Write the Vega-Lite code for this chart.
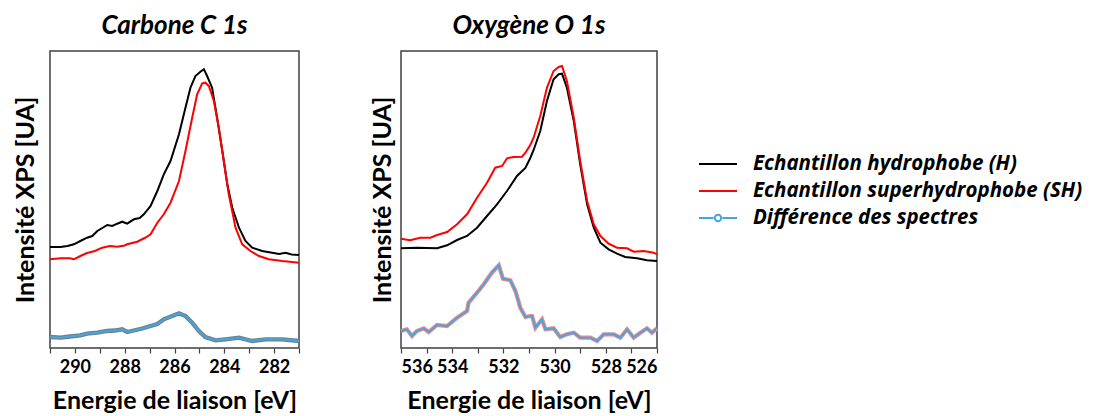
{
 "$schema": "https://vega.github.io/schema/vega-lite/v6.json",
 "background": "white",
 "padding": {"left": 12, "top": 12, "right": 5, "bottom": 0},
 "config": {
  "font": "Lato",
  "view": {"stroke": "#404040", "strokeWidth": 1.5},
  "axis": {"labelFont": "Lato", "labelFontWeight": "bold", "labelFontSize": 18, "labelColor": "#000", "titleFont": "Lato", "titleFontWeight": "bold", "titleFontSize": 25, "titleColor": "#000", "grid": false, "domain": false, "tickColor": "#404040", "tickSize": 5, "tickWidth": 1.2},
  "title": {"font": "Lato", "fontSize": 26, "fontWeight": "bold", "fontStyle": "italic", "color": "#000", "offset": 12},
  "concat": {"spacing": 60}
 },
 "datasets": {
  "carbon": [
   {"E": 291.0, "I": 101, "s": "Echantillon hydrophobe (H)"},
   {"E": 290.58, "I": 101, "s": "Echantillon hydrophobe (H)"},
   {"E": 290.3, "I": 102, "s": "Echantillon hydrophobe (H)"},
   {"E": 290.04, "I": 103.7, "s": "Echantillon hydrophobe (H)"},
   {"E": 289.78, "I": 107, "s": "Echantillon hydrophobe (H)"},
   {"E": 289.51, "I": 110.3, "s": "Echantillon hydrophobe (H)"},
   {"E": 289.3, "I": 112, "s": "Echantillon hydrophobe (H)"},
   {"E": 289.1, "I": 117, "s": "Echantillon hydrophobe (H)"},
   {"E": 288.9, "I": 120, "s": "Echantillon hydrophobe (H)"},
   {"E": 288.7, "I": 123, "s": "Echantillon hydrophobe (H)"},
   {"E": 288.5, "I": 122, "s": "Echantillon hydrophobe (H)"},
   {"E": 288.3, "I": 124.3, "s": "Echantillon hydrophobe (H)"},
   {"E": 288.1, "I": 126.3, "s": "Echantillon hydrophobe (H)"},
   {"E": 287.9, "I": 124.3, "s": "Echantillon hydrophobe (H)"},
   {"E": 287.63, "I": 128.7, "s": "Echantillon hydrophobe (H)"},
   {"E": 287.4, "I": 130, "s": "Echantillon hydrophobe (H)"},
   {"E": 287.23, "I": 133.7, "s": "Echantillon hydrophobe (H)"},
   {"E": 286.96, "I": 142, "s": "Echantillon hydrophobe (H)"},
   {"E": 286.69, "I": 157, "s": "Echantillon hydrophobe (H)"},
   {"E": 286.43, "I": 173.7, "s": "Echantillon hydrophobe (H)"},
   {"E": 286.16, "I": 187, "s": "Echantillon hydrophobe (H)"},
   {"E": 285.82, "I": 213.7, "s": "Echantillon hydrophobe (H)"},
   {"E": 285.56, "I": 240.3, "s": "Echantillon hydrophobe (H)"},
   {"E": 285.36, "I": 260.3, "s": "Echantillon hydrophobe (H)"},
   {"E": 285.16, "I": 272, "s": "Echantillon hydrophobe (H)"},
   {"E": 284.96, "I": 276.3, "s": "Echantillon hydrophobe (H)"},
   {"E": 284.82, "I": 278.7, "s": "Echantillon hydrophobe (H)"},
   {"E": 284.69, "I": 272, "s": "Echantillon hydrophobe (H)"},
   {"E": 284.49, "I": 260.3, "s": "Echantillon hydrophobe (H)"},
   {"E": 284.29, "I": 230.3, "s": "Echantillon hydrophobe (H)"},
   {"E": 284.08, "I": 197, "s": "Echantillon hydrophobe (H)"},
   {"E": 283.88, "I": 163.7, "s": "Echantillon hydrophobe (H)"},
   {"E": 283.68, "I": 140.3, "s": "Echantillon hydrophobe (H)"},
   {"E": 283.41, "I": 120.3, "s": "Echantillon hydrophobe (H)"},
   {"E": 283.15, "I": 107, "s": "Echantillon hydrophobe (H)"},
   {"E": 282.88, "I": 100.3, "s": "Echantillon hydrophobe (H)"},
   {"E": 282.48, "I": 97, "s": "Echantillon hydrophobe (H)"},
   {"E": 282.08, "I": 95.3, "s": "Echantillon hydrophobe (H)"},
   {"E": 281.8, "I": 94, "s": "Echantillon hydrophobe (H)"},
   {"E": 281.54, "I": 95.3, "s": "Echantillon hydrophobe (H)"},
   {"E": 281.3, "I": 93.5, "s": "Echantillon hydrophobe (H)"},
   {"E": 281.0, "I": 93, "s": "Echantillon hydrophobe (H)"},
   {"E": 291.0, "I": 88.7, "s": "Echantillon superhydrophobe (SH)"},
   {"E": 290.58, "I": 89.7, "s": "Echantillon superhydrophobe (SH)"},
   {"E": 290.2, "I": 89.7, "s": "Echantillon superhydrophobe (SH)"},
   {"E": 290.04, "I": 88.7, "s": "Echantillon superhydrophobe (SH)"},
   {"E": 289.78, "I": 92, "s": "Echantillon superhydrophobe (SH)"},
   {"E": 289.51, "I": 95, "s": "Echantillon superhydrophobe (SH)"},
   {"E": 289.2, "I": 97, "s": "Echantillon superhydrophobe (SH)"},
   {"E": 288.9, "I": 100.3, "s": "Echantillon superhydrophobe (SH)"},
   {"E": 288.6, "I": 102, "s": "Echantillon superhydrophobe (SH)"},
   {"E": 288.3, "I": 101.3, "s": "Echantillon superhydrophobe (SH)"},
   {"E": 288.0, "I": 102.5, "s": "Echantillon superhydrophobe (SH)"},
   {"E": 287.9, "I": 103.7, "s": "Echantillon superhydrophobe (SH)"},
   {"E": 287.5, "I": 106.3, "s": "Echantillon superhydrophobe (SH)"},
   {"E": 287.2, "I": 110, "s": "Echantillon superhydrophobe (SH)"},
   {"E": 286.96, "I": 113.7, "s": "Echantillon superhydrophobe (SH)"},
   {"E": 286.69, "I": 125.3, "s": "Echantillon superhydrophobe (SH)"},
   {"E": 286.43, "I": 133.7, "s": "Echantillon superhydrophobe (SH)"},
   {"E": 286.16, "I": 145.3, "s": "Echantillon superhydrophobe (SH)"},
   {"E": 285.82, "I": 167, "s": "Echantillon superhydrophobe (SH)"},
   {"E": 285.56, "I": 197, "s": "Echantillon superhydrophobe (SH)"},
   {"E": 285.29, "I": 230.3, "s": "Echantillon superhydrophobe (SH)"},
   {"E": 285.09, "I": 253.7, "s": "Echantillon superhydrophobe (SH)"},
   {"E": 284.89, "I": 264.7, "s": "Echantillon superhydrophobe (SH)"},
   {"E": 284.76, "I": 265.3, "s": "Echantillon superhydrophobe (SH)"},
   {"E": 284.62, "I": 262, "s": "Echantillon superhydrophobe (SH)"},
   {"E": 284.42, "I": 247, "s": "Echantillon superhydrophobe (SH)"},
   {"E": 284.22, "I": 220.3, "s": "Echantillon superhydrophobe (SH)"},
   {"E": 284.02, "I": 187, "s": "Echantillon superhydrophobe (SH)"},
   {"E": 283.82, "I": 153.7, "s": "Echantillon superhydrophobe (SH)"},
   {"E": 283.55, "I": 120.3, "s": "Echantillon superhydrophobe (SH)"},
   {"E": 283.28, "I": 103.7, "s": "Echantillon superhydrophobe (SH)"},
   {"E": 282.95, "I": 97, "s": "Echantillon superhydrophobe (SH)"},
   {"E": 282.61, "I": 92, "s": "Echantillon superhydrophobe (SH)"},
   {"E": 282.21, "I": 88.7, "s": "Echantillon superhydrophobe (SH)"},
   {"E": 281.67, "I": 87, "s": "Echantillon superhydrophobe (SH)"},
   {"E": 281.0, "I": 85.3, "s": "Echantillon superhydrophobe (SH)"},
   {"E": 291.0, "I": 11, "s": "Différence des spectres"},
   {"E": 290.58, "I": 10.3, "s": "Différence des spectres"},
   {"E": 290.2, "I": 11.5, "s": "Différence des spectres"},
   {"E": 289.78, "I": 12.7, "s": "Différence des spectres"},
   {"E": 289.51, "I": 14.3, "s": "Différence des spectres"},
   {"E": 289.1, "I": 15.3, "s": "Différence des spectres"},
   {"E": 288.7, "I": 17, "s": "Différence des spectres"},
   {"E": 288.4, "I": 17.5, "s": "Différence des spectres"},
   {"E": 288.1, "I": 18.7, "s": "Différence des spectres"},
   {"E": 287.9, "I": 16, "s": "Différence des spectres"},
   {"E": 287.63, "I": 17.5, "s": "Différence des spectres"},
   {"E": 287.3, "I": 19.5, "s": "Différence des spectres"},
   {"E": 286.96, "I": 22, "s": "Différence des spectres"},
   {"E": 286.69, "I": 24, "s": "Différence des spectres"},
   {"E": 286.43, "I": 28.7, "s": "Différence des spectres"},
   {"E": 286.09, "I": 32, "s": "Différence des spectres"},
   {"E": 285.82, "I": 34.7, "s": "Différence des spectres"},
   {"E": 285.56, "I": 32, "s": "Différence des spectres"},
   {"E": 285.29, "I": 25.3, "s": "Différence des spectres"},
   {"E": 285.02, "I": 17, "s": "Différence des spectres"},
   {"E": 284.76, "I": 11, "s": "Différence des spectres"},
   {"E": 284.35, "I": 7.7, "s": "Différence des spectres"},
   {"E": 283.95, "I": 8.7, "s": "Différence des spectres"},
   {"E": 283.41, "I": 10.3, "s": "Différence des spectres"},
   {"E": 282.88, "I": 7, "s": "Différence des spectres"},
   {"E": 282.34, "I": 8.7, "s": "Différence des spectres"},
   {"E": 281.67, "I": 8.7, "s": "Différence des spectres"},
   {"E": 281.0, "I": 7, "s": "Différence des spectres"}
  ],
  "oxygen": [
   {"E": 536.0, "I": 99.7, "s": "Echantillon hydrophobe (H)"},
   {"E": 535.38, "I": 100.3, "s": "Echantillon hydrophobe (H)"},
   {"E": 534.59, "I": 99.7, "s": "Echantillon hydrophobe (H)"},
   {"E": 534.2, "I": 102.7, "s": "Echantillon hydrophobe (H)"},
   {"E": 533.81, "I": 108, "s": "Echantillon hydrophobe (H)"},
   {"E": 533.42, "I": 112, "s": "Echantillon hydrophobe (H)"},
   {"E": 533.03, "I": 120.3, "s": "Echantillon hydrophobe (H)"},
   {"E": 532.64, "I": 132, "s": "Echantillon hydrophobe (H)"},
   {"E": 532.25, "I": 143.7, "s": "Echantillon hydrophobe (H)"},
   {"E": 531.86, "I": 157, "s": "Echantillon hydrophobe (H)"},
   {"E": 531.47, "I": 172, "s": "Echantillon hydrophobe (H)"},
   {"E": 531.14, "I": 180, "s": "Echantillon hydrophobe (H)"},
   {"E": 530.95, "I": 190, "s": "Echantillon hydrophobe (H)"},
   {"E": 530.82, "I": 198, "s": "Echantillon hydrophobe (H)"},
   {"E": 530.56, "I": 217, "s": "Echantillon hydrophobe (H)"},
   {"E": 530.3, "I": 247, "s": "Echantillon hydrophobe (H)"},
   {"E": 530.04, "I": 268.7, "s": "Echantillon hydrophobe (H)"},
   {"E": 529.84, "I": 273.7, "s": "Echantillon hydrophobe (H)"},
   {"E": 529.71, "I": 274.3, "s": "Echantillon hydrophobe (H)"},
   {"E": 529.52, "I": 260.3, "s": "Echantillon hydrophobe (H)"},
   {"E": 529.25, "I": 227, "s": "Echantillon hydrophobe (H)"},
   {"E": 529.0, "I": 183.7, "s": "Echantillon hydrophobe (H)"},
   {"E": 528.73, "I": 143.7, "s": "Echantillon hydrophobe (H)"},
   {"E": 528.47, "I": 120.3, "s": "Echantillon hydrophobe (H)"},
   {"E": 528.21, "I": 105.3, "s": "Echantillon hydrophobe (H)"},
   {"E": 527.89, "I": 98.7, "s": "Echantillon hydrophobe (H)"},
   {"E": 527.56, "I": 94.3, "s": "Echantillon hydrophobe (H)"},
   {"E": 527.24, "I": 91, "s": "Echantillon hydrophobe (H)"},
   {"E": 526.78, "I": 89.7, "s": "Echantillon hydrophobe (H)"},
   {"E": 526.39, "I": 87.7, "s": "Echantillon hydrophobe (H)"},
   {"E": 526.0, "I": 87, "s": "Echantillon hydrophobe (H)"},
   {"E": 536.0, "I": 109.3, "s": "Echantillon superhydrophobe (SH)"},
   {"E": 535.64, "I": 107.7, "s": "Echantillon superhydrophobe (SH)"},
   {"E": 535.25, "I": 110.3, "s": "Echantillon superhydrophobe (SH)"},
   {"E": 534.85, "I": 110.3, "s": "Echantillon superhydrophobe (SH)"},
   {"E": 534.59, "I": 113, "s": "Echantillon superhydrophobe (SH)"},
   {"E": 534.2, "I": 116, "s": "Echantillon superhydrophobe (SH)"},
   {"E": 533.81, "I": 123.7, "s": "Echantillon superhydrophobe (SH)"},
   {"E": 533.42, "I": 133.7, "s": "Echantillon superhydrophobe (SH)"},
   {"E": 533.03, "I": 150.3, "s": "Echantillon superhydrophobe (SH)"},
   {"E": 532.64, "I": 165.3, "s": "Echantillon superhydrophobe (SH)"},
   {"E": 532.32, "I": 180.3, "s": "Echantillon superhydrophobe (SH)"},
   {"E": 532.05, "I": 182, "s": "Echantillon superhydrophobe (SH)"},
   {"E": 531.86, "I": 189.7, "s": "Echantillon superhydrophobe (SH)"},
   {"E": 531.6, "I": 191, "s": "Echantillon superhydrophobe (SH)"},
   {"E": 531.27, "I": 191.3, "s": "Echantillon superhydrophobe (SH)"},
   {"E": 531.14, "I": 195.3, "s": "Echantillon superhydrophobe (SH)"},
   {"E": 530.95, "I": 203, "s": "Echantillon superhydrophobe (SH)"},
   {"E": 530.82, "I": 210.3, "s": "Echantillon superhydrophobe (SH)"},
   {"E": 530.56, "I": 232, "s": "Echantillon superhydrophobe (SH)"},
   {"E": 530.3, "I": 260.3, "s": "Echantillon superhydrophobe (SH)"},
   {"E": 530.04, "I": 277, "s": "Echantillon superhydrophobe (SH)"},
   {"E": 529.84, "I": 281, "s": "Echantillon superhydrophobe (SH)"},
   {"E": 529.71, "I": 282, "s": "Echantillon superhydrophobe (SH)"},
   {"E": 529.52, "I": 267, "s": "Echantillon superhydrophobe (SH)"},
   {"E": 529.25, "I": 230.3, "s": "Echantillon superhydrophobe (SH)"},
   {"E": 529.0, "I": 187, "s": "Echantillon superhydrophobe (SH)"},
   {"E": 528.73, "I": 147, "s": "Echantillon superhydrophobe (SH)"},
   {"E": 528.47, "I": 123.7, "s": "Echantillon superhydrophobe (SH)"},
   {"E": 528.21, "I": 112, "s": "Echantillon superhydrophobe (SH)"},
   {"E": 527.89, "I": 104.3, "s": "Echantillon superhydrophobe (SH)"},
   {"E": 527.56, "I": 100.3, "s": "Echantillon superhydrophobe (SH)"},
   {"E": 527.17, "I": 99.7, "s": "Echantillon superhydrophobe (SH)"},
   {"E": 526.91, "I": 96.3, "s": "Echantillon superhydrophobe (SH)"},
   {"E": 526.52, "I": 97, "s": "Echantillon superhydrophobe (SH)"},
   {"E": 526.13, "I": 95.3, "s": "Echantillon superhydrophobe (SH)"},
   {"E": 526.0, "I": 93.7, "s": "Echantillon superhydrophobe (SH)"},
   {"E": 536.0, "I": 17, "s": "Différence des spectres"},
   {"E": 535.77, "I": 18.7, "s": "Différence des spectres"},
   {"E": 535.57, "I": 12, "s": "Différence des spectres"},
   {"E": 535.38, "I": 17, "s": "Différence des spectres"},
   {"E": 535.11, "I": 19.7, "s": "Différence des spectres"},
   {"E": 534.92, "I": 16, "s": "Différence des spectres"},
   {"E": 534.59, "I": 23, "s": "Différence des spectres"},
   {"E": 534.2, "I": 22, "s": "Différence des spectres"},
   {"E": 533.81, "I": 30.3, "s": "Différence des spectres"},
   {"E": 533.42, "I": 37, "s": "Différence des spectres"},
   {"E": 533.36, "I": 45.3, "s": "Différence des spectres"},
   {"E": 533.03, "I": 55.3, "s": "Différence des spectres"},
   {"E": 532.77, "I": 63.7, "s": "Différence des spectres"},
   {"E": 532.45, "I": 75.3, "s": "Différence des spectres"},
   {"E": 532.18, "I": 82.7, "s": "Différence des spectres"},
   {"E": 532.02, "I": 69.3, "s": "Différence des spectres"},
   {"E": 531.73, "I": 67.7, "s": "Différence des spectres"},
   {"E": 531.53, "I": 57, "s": "Différence des spectres"},
   {"E": 531.34, "I": 40.3, "s": "Différence des spectres"},
   {"E": 531.14, "I": 31, "s": "Différence des spectres"},
   {"E": 530.95, "I": 32, "s": "Différence des spectres"},
   {"E": 530.88, "I": 32, "s": "Différence des spectres"},
   {"E": 530.75, "I": 20.3, "s": "Différence des spectres"},
   {"E": 530.49, "I": 28.7, "s": "Différence des spectres"},
   {"E": 530.36, "I": 18.7, "s": "Différence des spectres"},
   {"E": 530.04, "I": 19.7, "s": "Différence des spectres"},
   {"E": 529.78, "I": 11, "s": "Différence des spectres"},
   {"E": 529.52, "I": 13.7, "s": "Différence des spectres"},
   {"E": 529.25, "I": 15.3, "s": "Différence des spectres"},
   {"E": 529.0, "I": 10.3, "s": "Différence des spectres"},
   {"E": 528.6, "I": 10.3, "s": "Différence des spectres"},
   {"E": 528.34, "I": 7, "s": "Différence des spectres"},
   {"E": 528.08, "I": 13.7, "s": "Différence des spectres"},
   {"E": 527.69, "I": 13.7, "s": "Différence des spectres"},
   {"E": 527.43, "I": 10.3, "s": "Différence des spectres"},
   {"E": 527.17, "I": 18.7, "s": "Différence des spectres"},
   {"E": 526.91, "I": 10.3, "s": "Différence des spectres"},
   {"E": 526.65, "I": 15.3, "s": "Différence des spectres"},
   {"E": 526.39, "I": 19.7, "s": "Différence des spectres"},
   {"E": 526.2, "I": 15.3, "s": "Différence des spectres"},
   {"E": 526.0, "I": 19.7, "s": "Différence des spectres"}
  ]
 },
 "hconcat": [
  {
   "width": 249, "height": 297,
   "title": "Carbone C 1s",
   "data": {"name": "carbon"},
   "encoding": {
    "x": {"field": "E", "type": "quantitative", "scale": {"domain": [281, 291], "reverse": true, "nice": false, "zero": false},
     "axis": {"values": [291, 290, 289, 288, 287, 286, 285, 284, 283, 282, 281], "labelExpr": "datum.value % 2 == 0 ? datum.label : ''", "title": "Energie de liaison [eV]", "labelPadding": 5, "titlePadding": 12}},
    "y": {"field": "I", "type": "quantitative", "scale": {"domain": [0, 297], "nice": false},
     "axis": {"labels": false, "ticks": false, "title": "Intensité XPS [UA]", "titlePadding": 12}}
   },
   "layer": [
    {
     "transform": [{"filter": "datum.s === 'Différence des spectres'"}],
     "mark": {"type": "line", "color": "#6f7f8c", "strokeWidth": 4.3}
    },
    {
     "mark": {"type": "line"},
     "encoding": {
      "color": {"field": "s", "type": "nominal",
       "scale": {"domain": ["Echantillon hydrophobe (H)", "Echantillon superhydrophobe (SH)", "Différence des spectres"], "range": ["#000000", "#ff0000", "#45a6de"]},
       "legend": {"orient": "none", "legendX": 657, "legendY": 102, "title": null, "symbolType": "M-1.9,0H1.9", "symbolSize": 400, "symbolStrokeWidth": 4, "labelFont": "Open Sans", "labelFontSize": 20.5, "labelFontWeight": "bold", "labelFontStyle": "italic", "labelColor": "#000", "labelOffset": 24, "labelLimit": 0, "rowPadding": 5,
        "encode": {"symbols": {"update": {"shape": {"signal": "datum.value === 'Différence des spectres' ? 'M-1.9,0H-0.45M0.45,0H1.9M0.32,0A0.32,0.32 0 1,1 -0.32,0A0.32,0.32 0 1,1 0.32,0' : 'M-1.9,0H1.9'"}}}}}},
      "strokeWidth": {"field": "s", "type": "nominal", "scale": {"domain": ["Echantillon hydrophobe (H)", "Echantillon superhydrophobe (SH)", "Différence des spectres"], "range": [2, 2, 3]}, "legend": null}
     }
    }
   ]
  },
  {
   "width": 256, "height": 297,
   "title": "Oxygène O 1s",
   "data": {"name": "oxygen"},
   "encoding": {
    "x": {"field": "E", "type": "quantitative", "scale": {"domain": [526, 536], "reverse": true, "nice": false, "zero": false},
     "axis": {"values": [536, 535, 534, 533, 532, 531, 530, 529, 528, 527, 526], "labelExpr": "datum.value % 2 == 0 ? datum.label : ''", "title": "Energie de liaison [eV]", "labelPadding": 5, "titlePadding": 12}},
    "y": {"field": "I", "type": "quantitative", "scale": {"domain": [0, 297], "nice": false},
     "axis": {"labels": false, "ticks": false, "title": "Intensité XPS [UA]", "titlePadding": 6}}
   },
   "layer": [
    {
     "transform": [{"filter": "datum.s === 'Différence des spectres'"}],
     "mark": {"type": "line", "color": "#f08a8a", "strokeWidth": 4.2}
    },
    {
     "mark": {"type": "line"},
     "encoding": {
      "color": {"field": "s", "type": "nominal"},
      "strokeWidth": {"field": "s", "type": "nominal", "scale": {"domain": ["Echantillon hydrophobe (H)", "Echantillon superhydrophobe (SH)", "Différence des spectres"], "range": [2, 2, 3.2]}, "legend": null}
     }
    }
   ]
  }
 ]
}
